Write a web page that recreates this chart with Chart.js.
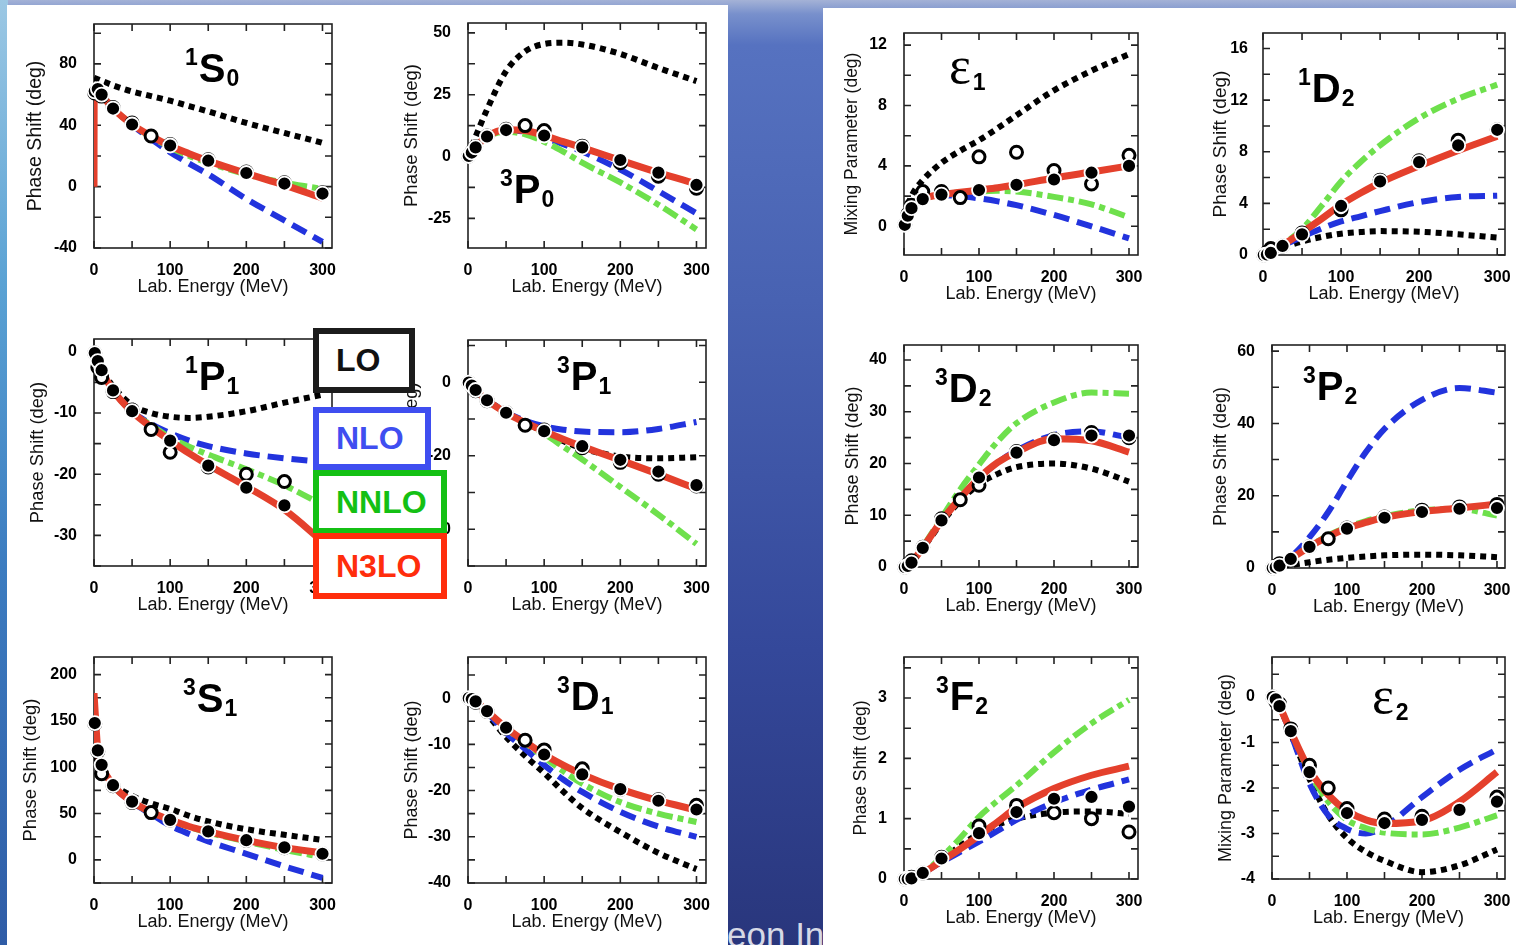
<!DOCTYPE html>
<html>
<head>
<meta charset="utf-8">
<title>NN phase shifts LO - N3LO</title>
<script src="https://cdn.jsdelivr.net/npm/chart.js@4.4.1/dist/chart.umd.min.js"></script>
<style>
  html, body { margin:0; padding:0; }
  body {
    width:1516px; height:945px; overflow:hidden; position:relative;
    background: linear-gradient(180deg, #a4b2d6 0px, #7890cc 14px, #5672c0 45px, #4862b2 300px, #34489a 650px, #29367c 945px);
    font-family: "Liberation Sans", Arial, sans-serif;
  }
  .strip { position:absolute; left:0; top:0; width:8px; height:945px;
    background: linear-gradient(180deg, #9cc8e4, #5aa2d4 30%, #3c7cc0 60%, #2f5ca6); }
  .caption { position:absolute; left:657px; top:917px; font-size:35px; line-height:35px; color:#d6d9e6; white-space:nowrap; }
  .page { position:absolute; background:#fff; }
  #pageL { left:7px; top:5px; width:721px; height:940px; }
  #pageR { left:823px; top:8px; width:693px; height:937px; }
  canvas { position:absolute; }
  .leg { position:absolute; box-sizing:border-box; background:#fff; border:6px solid;
    font-weight:bold; font-size:32px; padding-left:17px; display:flex; align-items:center; }
</style>
</head>
<body>
<div class="strip"></div>
<div class="caption">Nucleon Interactions</div>
<div class="page" id="pageL"></div>
<div class="page" id="pageR"></div>

<script>
// energies (MeV)
const E_GRID = [0, 5, 10, 25, 50, 75, 100, 125, 150, 200, 250, 300];
const E_PTS  = [1, 5, 10, 25, 50, 100, 150, 200, 250, 300];
const E_OPEN = [1, 5, 10, 25, 50, 75, 100, 150, 200, 250, 300];
const X_TICKS = [0, 100, 200, 300];

// ---- 1S0 ----
const S1S0_YT = [-40, 0, 40, 80];
const S1S0_LO = [71, 70, 69, 66, 62, 59, 56, 52.5, 49, 41.5, 35, 28.5];
const S1S0_NLO = [60, 61, 59, 51, 40, 31, 22.5, 15, 8, -8, -22, -36];
const S1S0_NNLO = [60, 62, 59.5, 51, 40.5, 32.5, 25.5, 20, 15.5, 8, 2.5, -1.5];
const S1S0_N3LO_E = [0, 0.2, 1, 5, 10, 25, 50, 75, 100, 125, 150, 200, 250, 300];
const S1S0_N3LO = [0, 57, 62, 63.5, 60, 51, 40.5, 33, 26.5, 21.5, 16.8, 8.6, 1, -7.5];
const S1S0_PWA = [62.1, 63.6, 60.0, 50.9, 40.5, 26.8, 16.9, 8.9, 2.0, -4.5];
const S1S0_VPI = [61, 62.5, 59, 51.5, 41.5, 33, 27.5, 17.5, 9.5, 2.5, -4];

// ---- 3P0 ----
const P3P0_YT = [-25, 0, 25, 50];
const P3P0_LO = [0, 4, 8, 19, 34.5, 42.5, 45.5, 46, 45.3, 41.5, 35.8, 30.5];
const P3P0_NLO = [0, 1.6, 3.6, 8, 10.5, 10, 7.5, 5, 2, -5.3, -14, -23];
const P3P0_NNLO = [0, 1.6, 3.6, 8, 10, 9, 6, 2, -2.5, -10.5, -19.5, -29.5];
const P3P0_N3LO = [0, 1.6, 3.7, 8.1, 10.8, 10.5, 8.5, 6, 3.6, -1.5, -6.5, -11];
const P3P0_PWA = [0.2, 1.6, 3.7, 8.1, 10.7, 8.5, 3.7, -1.4, -6.5, -11.5];
const P3P0_VPI = [0.2, 1.8, 4, 8.3, 11, 12.5, 10.5, 4.2, -2.5, -8, -12.8];

// ---- 1P1 ----
const P1P1_YT = [-30, -20, -10, 0];
const P1P1_LO = [0, -1.4, -2.8, -5.6, -8.7, -10, -10.6, -10.8, -10.6, -9.7, -8.3, -7];
const P1P1_NLO = [0, -1.5, -3, -6.3, -9.7, -11.8, -13.3, -14.5, -15.4, -16.6, -17.4, -18];
const P1P1_NNLO = [0, -1.5, -3, -6.3, -9.7, -12, -14, -15.5, -16.8, -19.2, -21.8, -25];
const P1P1_N3LO = [0, -1.5, -3, -6.3, -9.8, -12.3, -14.5, -16.6, -18.5, -22, -25.8, -31];
const P1P1_PWA = [-0.2, -1.5, -3.0, -6.3, -9.7, -14.5, -18.6, -22.2, -25.1, -27.6];
const P1P1_VPI = [-0.2, -2.5, -4.2, -6.5, -9.5, -12.7, -16.4, -18.8, -20, -21.2, -24];

// ---- 3P1 ----
const P3P1_YT = [-40, -20, 0];
const P3P1_LO = [0, -0.9, -2.1, -4.8, -8.1, -11, -13.5, -16, -18, -20.2, -20.7, -20.4];
const P3P1_NLO = [0, -0.9, -2.1, -4.8, -8.1, -10.5, -12, -12.9, -13.4, -13.6, -12.7, -10.8];
const P3P1_NNLO = [0, -0.9, -2.1, -4.9, -8.3, -11.2, -14, -17.5, -21, -28.5, -36, -44];
const P3P1_N3LO = [0, -0.9, -2.1, -4.9, -8.3, -11, -13.3, -15.5, -17.5, -21.2, -25, -29];
const P3P1_PWA = [-0.1, -0.9, -2.1, -4.9, -8.3, -13.3, -17.4, -21.1, -24.3, -28];
const P3P1_VPI = [-0.1, -1.0, -2.3, -5, -8.2, -11.7, -13, -17.8, -21.8, -25, -28.2];

// ---- 3S1 ----
const S3S1_YT = [0, 50, 100, 150, 200];
const S3S1_LO = [110, 105, 97, 82, 69, 61, 55, 47.5, 41.5, 33, 27, 21.5];
const S3S1_NLO = [150, 118, 102.5, 80.5, 62, 49.5, 37, 28, 20, 6.5, -7, -19.5];
const S3S1_NNLO = [150, 118, 102.5, 80.6, 62.8, 51, 43, 35.5, 29.5, 19.8, 10.8, 3];
const S3S1_N3LO = [180, 118.2, 102.6, 80.6, 62.8, 51.5, 43.2, 36, 30.5, 21, 13.2, 7.5];
const S3S1_PWA = [147.7, 118.2, 102.6, 80.6, 62.8, 43.2, 30.7, 21.2, 13.4, 6.6];
const S3S1_VPI = [147, 117, 93, 80, 62, 51, 43, 31, 21, 13, 6.5];

// ---- 3D1 ----
const D3D1_YT = [-40, -30, -20, -10, 0];
const D3D1_LO = [0, -0.2, -0.8, -3.5, -8.4, -12.5, -16.2, -20.2, -23.8, -29, -33.5, -37];
const D3D1_NLO = [0, -0.2, -0.8, -3.1, -7.5, -11, -14.5, -17.6, -20.3, -24.6, -27.8, -30];
const D3D1_NNLO = [0, -0.2, -0.7, -2.8, -6.5, -9.7, -12.8, -15.8, -18.5, -22.5, -25, -26.8];
const D3D1_N3LO = [0, -0.2, -0.7, -2.8, -6.4, -9.4, -12.2, -14.5, -16.5, -19.7, -22.2, -24.2];
const D3D1_PWA = [0, -0.2, -0.7, -2.8, -6.4, -12.2, -16.5, -19.7, -22.2, -24.1];
const D3D1_VPI = [0, -0.3, -0.9, -2.9, -6.5, -9.1, -11.2, -15.3, -19.7, -22, -23.2];

// ---- epsilon 1 ----
const EPS1_YT = [0, 4, 8, 12];
const EPS1_LO = [0, 1.3, 2.0, 3.05, 4.2, 5.0, 5.7, 6.5, 7.35, 9.0, 10.3, 11.4];
const EPS1_NLO = [0, 0.7, 1.2, 1.8, 2.05, 2.0, 1.85, 1.65, 1.4, 0.75, 0.0, -0.8];
const EPS1_NNLO = [0, 0.7, 1.2, 1.8, 2.1, 2.25, 2.3, 2.35, 2.3, 1.95, 1.45, 0.6];
const EPS1_N3LO = [0, 0.7, 1.2, 1.8, 2.1, 2.25, 2.4, 2.55, 2.75, 3.2, 3.6, 4.0];
const EPS1_PWA = [0.1, 0.7, 1.2, 1.8, 2.1, 2.4, 2.75, 3.1, 3.55, 4.0];
const EPS1_VPI = [0.1, 0.8, 1.4, 2.3, 2.3, 1.9, 4.6, 4.9, 3.7, 2.8, 4.7];

// ---- 1D2 ----
const D1D2_YT = [0, 4, 8, 12, 16];
const D1D2_LO = [0, 0.04, 0.15, 0.55, 1.05, 1.4, 1.65, 1.78, 1.85, 1.8, 1.6, 1.35];
const D1D2_NLO = [0, 0.04, 0.15, 0.7, 1.4, 2.05, 2.6, 3.0, 3.4, 4.1, 4.5, 4.6];
const D1D2_NNLO = [0, 0.04, 0.16, 0.8, 2.0, 3.8, 5.7, 7.2, 8.5, 10.6, 12.1, 13.2];
const D1D2_N3LO = [0, 0.04, 0.16, 0.75, 1.75, 2.8, 3.9, 4.8, 5.6, 6.9, 8.1, 9.2];
const D1D2_PWA = [0, 0.04, 0.16, 0.7, 1.6, 3.8, 5.7, 7.2, 8.5, 9.7];
const D1D2_VPI = [0, 0.2, 0.5, 0.7, 1.7, null, 3.5, 5.8, 7.3, 8.9, 9.7];

// ---- 3D2 ----
const D3D2_YT = [0, 10, 20, 30, 40];
const D3D2_LO = [0, 0.2, 0.8, 3.6, 8.5, 12.8, 16, 18, 19.3, 20, 19, 16.5];
const D3D2_NLO = [0, 0.2, 0.85, 3.7, 8.9, 13.3, 17.2, 20.2, 22.5, 25.5, 26.2, 25];
const D3D2_NNLO = [0, 0.2, 0.9, 3.9, 9.5, 15, 19.8, 24.3, 27.8, 31.8, 33.7, 33.5];
const D3D2_N3LO = [0, 0.2, 0.85, 3.7, 8.9, 13.3, 17.2, 20.2, 22.2, 24.8, 24.4, 22.2];
const D3D2_PWA = [0, 0.2, 0.85, 3.7, 9.0, 17.3, 22.1, 24.5, 25.4, 25.4];
const D3D2_VPI = [0, 0.5, 1.2, 3.8, 9.3, 13, 15.8, 22.3, 24.7, 26, 25];

// ---- 3P2 ----
const P3P2_YT = [0, 20, 40, 60];
const P3P2_LO = [0, 0.1, 0.25, 0.8, 1.6, 2.3, 2.8, 3.2, 3.5, 3.7, 3.5, 3.0];
const P3P2_NLO = [0, 0.2, 0.7, 3, 8.5, 15.5, 24, 32, 38.5, 46.5, 49.8, 48.5];
const P3P2_NNLO = [0, 0.2, 0.65, 2.6, 6, 9, 11.3, 13, 14.3, 16, 16.3, 14.5];
const P3P2_N3LO = [0, 0.2, 0.65, 2.5, 5.9, 8.7, 11, 12.6, 14, 15.6, 16.6, 17.7];
const P3P2_PWA = [0, 0.2, 0.65, 2.5, 5.85, 10.9, 13.9, 15.5, 16.4, 16.6];
const P3P2_VPI = [0, 0.5, 1.2, 2.2, 5.9, 8.1, 11.1, 14.1, 16, 16.9, 17.6];

// ---- 3F2 ----
const F3F2_YT = [0, 1, 2, 3];
const F3F2_LO = [0, 0, 0.01, 0.1, 0.32, 0.55, 0.75, 0.9, 1.0, 1.1, 1.12, 1.08];
const F3F2_NLO = [0, 0, 0.01, 0.1, 0.28, 0.45, 0.62, 0.8, 0.98, 1.27, 1.48, 1.65];
const F3F2_NNLO = [0, 0, 0.01, 0.1, 0.36, 0.68, 1.03, 1.3, 1.55, 2.1, 2.58, 2.97];
const F3F2_N3LO = [0, 0, 0.01, 0.1, 0.3, 0.5, 0.72, 0.95, 1.18, 1.5, 1.72, 1.87];
const F3F2_PWA = [0, 0, 0.01, 0.1, 0.34, 0.76, 1.11, 1.33, 1.36, 1.2];
const F3F2_VPI = [0, 0.01, 0.03, 0.1, 0.36, null, 0.88, 1.22, 1.1, 1.0, 0.78];

// ---- epsilon 2 ----
const EPS2_YT = [-4, -3, -2, -1, 0];
const EPS2_LO = [0, -0.05, -0.2, -0.8, -1.8, -2.6, -3.1, -3.4, -3.6, -3.85, -3.7, -3.35];
const EPS2_NLO = [0, -0.05, -0.2, -0.8, -1.9, -2.6, -2.9, -3.0, -2.85, -2.2, -1.6, -1.15];
const EPS2_NNLO = [0, -0.05, -0.2, -0.75, -1.65, -2.3, -2.7, -2.88, -2.98, -3.02, -2.87, -2.6];
const EPS2_N3LO = [0, -0.05, -0.2, -0.75, -1.6, -2.15, -2.5, -2.7, -2.78, -2.72, -2.3, -1.65];
const EPS2_PWA = [0, -0.05, -0.2, -0.75, -1.65, -2.55, -2.77, -2.7, -2.48, -2.3];
const EPS2_VPI = [0, -0.1, -0.15, -0.7, -1.5, -2.0, -2.45, -2.68, -2.62, null, -2.2];

const PS = 'Phase Shift (deg)', MP = 'Mixing Parameter (deg)';
const FONT = '"Liberation Sans", Arial, sans-serif';
const PT = 12, PR = 14, AXH = 50;

// layout of the 12 panels: plot box [left, top, width, height]
const panels = [
  { box:[94,24,238,224], xmax:312.5, ymin:-40, ymax:106, yt:S1S0_YT, yTitle:PS, ytOff:58, ytSize:19.5, tp:9,
    lab:{sup:'1', main:'S', sub:'0', dx:91, dy:58},
    lines:[[E_GRID,S1S0_LO],[E_GRID,S1S0_NLO],[E_GRID,S1S0_NNLO],[S1S0_N3LO_E,S1S0_N3LO]], pwa:S1S0_PWA, vpi:S1S0_VPI },
  { box:[468,23,238,225], xmax:312.5, ymin:-37, ymax:54, yt:P3P0_YT, yTitle:PS, ytOff:56, ytSize:18.5, tp:9,
    lab:{sup:'3', main:'P', sub:'0', dx:32, dy:180},
    lines:[[E_GRID,P3P0_LO],[E_GRID,P3P0_NLO],[E_GRID,P3P0_NNLO],[E_GRID,P3P0_N3LO]], pwa:P3P0_PWA, vpi:P3P0_VPI },
  { box:[94,339,238,227], xmax:312.5, ymin:-35, ymax:2.1, yt:P1P1_YT, yTitle:PS, ytOff:56.5, ytSize:18.3, tp:9,
    lab:{sup:'1', main:'P', sub:'1', dx:91, dy:51},
    lines:[[E_GRID,P1P1_LO],[E_GRID,P1P1_NLO],[E_GRID,P1P1_NNLO],[E_GRID,P1P1_N3LO]], pwa:P1P1_PWA, vpi:P1P1_VPI },
  { box:[468,340,238,226], xmax:312.5, ymin:-50, ymax:11.5, yt:P3P1_YT, yTitle:PS, ytOff:56, ytSize:18.3, tp:9,
    lab:{sup:'3', main:'P', sub:'1', dx:89, dy:50},
    lines:[[E_GRID,P3P1_LO],[E_GRID,P3P1_NLO],[E_GRID,P3P1_NNLO],[E_GRID,P3P1_N3LO]], pwa:P3P1_PWA, vpi:P3P1_VPI },
  { box:[94,657,238,226], xmax:312.5, ymin:-25, ymax:219, yt:S3S1_YT, yTitle:PS, ytOff:62.5, ytSize:18.5, tp:9,
    lab:{sup:'3', main:'S', sub:'1', dx:89, dy:55},
    lines:[[E_GRID,S3S1_LO],[E_GRID,S3S1_NLO],[E_GRID,S3S1_NNLO],[E_GRID,S3S1_N3LO]], pwa:S3S1_PWA, vpi:S3S1_VPI },
  { box:[468,657,238,226], xmax:312.5, ymin:-40, ymax:8.9, yt:D3D1_YT, yTitle:PS, ytOff:56, ytSize:18, tp:9,
    lab:{sup:'3', main:'D', sub:'1', dx:89, dy:53},
    lines:[[E_GRID,D3D1_LO],[E_GRID,D3D1_NLO],[E_GRID,D3D1_NNLO],[E_GRID,D3D1_N3LO]], pwa:D3D1_PWA, vpi:D3D1_VPI },
  { box:[904,33,234,222], xmax:312, ymin:-1.9, ymax:12.8, yt:EPS1_YT, yTitle:MP, ytOff:51, ytSize:17.5, tp:9,
    lab:{sup:'', main:'\u03b5', sub:'1', dx:45, dy:50, serif:true},
    lines:[[E_GRID,EPS1_LO],[E_GRID,EPS1_NLO],[E_GRID,EPS1_NNLO],[E_GRID,EPS1_N3LO]], pwa:EPS1_PWA, vpi:EPS1_VPI },
  { box:[1263,33,242,222], xmax:310, ymin:0, ymax:17.2, yt:D1D2_YT, yTitle:PS, ytOff:43, ytSize:19, tp:7,
    lab:{sup:'1', main:'D', sub:'2', dx:35, dy:69},
    lines:[[E_GRID,D1D2_LO],[E_GRID,D1D2_NLO],[E_GRID,D1D2_NNLO],[E_GRID,D1D2_N3LO]], pwa:D1D2_PWA, vpi:D1D2_VPI },
  { box:[904,345,234,222], xmax:312, ymin:0, ymax:42.9, yt:D3D2_YT, yTitle:PS, ytOff:51, ytSize:18, tp:9,
    lab:{sup:'3', main:'D', sub:'2', dx:31, dy:57},
    lines:[[E_GRID,D3D2_LO],[E_GRID,D3D2_NLO],[E_GRID,D3D2_NNLO],[E_GRID,D3D2_N3LO]], pwa:D3D2_PWA, vpi:D3D2_VPI },
  { box:[1272,345,233,223], xmax:310.7, ymin:0, ymax:61.7, yt:P3P2_YT, yTitle:PS, ytOff:51, ytSize:18, tp:9,
    lab:{sup:'3', main:'P', sub:'2', dx:31, dy:55},
    lines:[[E_GRID,P3P2_LO],[E_GRID,P3P2_NLO],[E_GRID,P3P2_NNLO],[E_GRID,P3P2_N3LO]], pwa:P3P2_PWA, vpi:P3P2_VPI },
  { box:[904,657,234,222], xmax:312, ymin:0, ymax:3.68, yt:F3F2_YT, yTitle:PS, ytOff:42, ytSize:17.5, tp:9,
    lab:{sup:'3', main:'F', sub:'2', dx:32, dy:53},
    lines:[[E_GRID,F3F2_LO],[E_GRID,F3F2_NLO],[E_GRID,F3F2_NNLO],[E_GRID,F3F2_N3LO]], pwa:F3F2_PWA, vpi:F3F2_VPI },
  { box:[1272,657,233,222], xmax:310.7, ymin:-4, ymax:0.88, yt:EPS2_YT, yTitle:MP, ytOff:46, ytSize:18, tp:9,
    lab:{sup:'', main:'\u03b5', sub:'2', dx:100, dy:56, serif:true},
    lines:[[E_GRID,EPS2_LO],[E_GRID,EPS2_NLO],[E_GRID,EPS2_NNLO],[E_GRID,EPS2_N3LO]], pwa:EPS2_PWA, vpi:EPS2_VPI }
];

// line styles: LO, NLO, NNLO, N3LO
const STYLES = [
  { color:'#000000', width:6, dash:[6,5] },
  { color:'#2233dd', width:6, dash:[16,8] },
  { color:'#6ee04c', width:6, dash:[16,5,6,5] },
  { color:'#e4402c', width:7, dash:[] }
];

function curve(xs, ys, st){
  return {
    data: xs.map((x,i)=>({x:x, y:ys[i]})),
    borderColor: st.color, borderWidth: st.width, borderDash: st.dash, borderCapStyle:'butt',
    pointRadius: 0, fill:false, cubicInterpolationMode:'monotone'
  };
}
function points(xs, ys, filled){
  const d = [];
  xs.forEach((x,i)=>{ if(ys[i] !== null && ys[i] !== undefined) d.push({x:x, y:ys[i]}); });
  return {
    data: d, showLine:false, clip:false,
    pointRadius: filled ? 7 : 6,
    pointBorderWidth: filled ? 1.8 : 3,
    pointBackgroundColor: filled ? '#000' : '#fff',
    pointBorderColor: filled ? '#fff' : '#000'
  };
}

// box, inward ticks on all 4 sides, channel label
function boxPlugin(p){
  return {
    id:'boxTicks',
    beforeDatasetsDraw(chart){
      const {ctx, chartArea:a, scales:{x, y}} = chart;
      ctx.save();
      ctx.strokeStyle = '#222'; ctx.lineWidth = 1.6;
      ctx.strokeRect(a.left, a.top, a.right - a.left, a.bottom - a.top);
      const L = 7;
      ctx.beginPath();
      for(let v = 0; v <= p.xmax; v += 50){
        const px = x.getPixelForValue(v);
        ctx.moveTo(px, a.bottom); ctx.lineTo(px, a.bottom - L);
        ctx.moveTo(px, a.top); ctx.lineTo(px, a.top + L);
      }
      const step = (p.yt[1] - p.yt[0]) / 2;
      let v0 = p.yt[0];
      while(v0 - step >= p.ymin - 1e-9) v0 -= step;
      for(let v = v0; v <= p.ymax + 1e-9; v += step){
        const py = y.getPixelForValue(v);
        ctx.moveTo(a.left, py); ctx.lineTo(a.left + L, py);
        ctx.moveTo(a.right, py); ctx.lineTo(a.right - L, py);
      }
      ctx.stroke();

      // channel name
      const lab = p.lab;
      let lx = a.left + lab.dx;
      const base = a.top + lab.dy;
      ctx.fillStyle = '#000'; ctx.textAlign = 'left'; ctx.textBaseline = 'alphabetic';
      if(lab.sup){
        ctx.font = 'bold 23px ' + FONT;
        ctx.fillText(lab.sup, lx, base - 17);
        lx += ctx.measureText(lab.sup).width + 1;
      }
      ctx.font = lab.serif ? '52px "Liberation Serif", serif' : 'bold 40px ' + FONT;
      ctx.fillText(lab.main, lx, base);
      lx += ctx.measureText(lab.main).width + (lab.serif ? 2 : 1);
      ctx.font = 'bold 23px ' + FONT;
      ctx.fillText(lab.sub, lx, base + (lab.serif ? 7 : 4));
      ctx.restore();
    }
  };
}

panels.forEach(p => {
  const [bx, by, bw, bh] = p.box;
  const AX = Math.round(p.ytOff + p.ytSize * 1.2 / 2);
  const W = AX + bw + PR, H = PT + bh + AXH;
  const cv = document.createElement('canvas');
  cv.width = W; cv.height = H;
  cv.style.left = (bx - AX) + 'px'; cv.style.top = (by - PT) + 'px';
  cv.style.width = W + 'px'; cv.style.height = H + 'px';
  document.body.appendChild(cv);

  const datasets = [points(E_PTS, p.pwa, true), points(E_OPEN, p.vpi, false)];
  for(let i = 3; i >= 0; i--) datasets.push(curve(p.lines[i][0], p.lines[i][1], STYLES[i]));

  new Chart(cv, {
    type:'line',
    data:{ datasets: datasets },
    options:{
      responsive:false, animation:false, devicePixelRatio:1, events:[],
      layout:{ padding:{ left:0, top:PT, right:PR, bottom:0 } },
      plugins:{ legend:{display:false}, tooltip:{enabled:false} },
      scales:{
        x:{
          type:'linear', min:0, max:p.xmax,
          grid:{display:false}, border:{display:false},
          afterBuildTicks: s => { s.ticks = X_TICKS.map(v => ({value:v})); },
          afterFit: s => { s.height = AXH; s.paddingLeft = 0; s.paddingRight = 0; },
          ticks:{ color:'#000', padding:5, maxRotation:0, autoSkip:false,
            font:{family:FONT, size:16, weight:'bold'}, callback: v => String(v) },
          title:{ display:true, text:'Lab. Energy (MeV)', color:'#111', padding:0,
            font:{family:FONT, size:18} }
        },
        y:{
          type:'linear', min:p.ymin, max:p.ymax,
          grid:{display:false}, border:{display:false},
          afterBuildTicks: s => { s.ticks = p.yt.map(v => ({value:v})); },
          afterFit: s => { s.width = AX; s.paddingTop = 0; s.paddingBottom = 0; },
          ticks:{ color:'#000', padding:p.tp, autoSkip:false,
            font:{family:FONT, size:16, weight:'bold'}, callback: v => String(v) },
          title:{ display:true, text:p.yTitle, color:'#111', padding:0,
            font:{family:FONT, size:p.ytSize} }
        }
      }
    },
    plugins:[boxPlugin(p)]
  });
});

// legend boxes
const LEG_LABELS = ['LO', 'NLO', 'NNLO', 'N3LO'];
const LEG_COLORS = ['#1c1c1c', '#3f4ef0', '#14c014', '#ff2d0c'];
const LEG_BOXES = [[313,328,102,65], [313,407,118,63], [313,470,134,64], [313,533,134,66]];
LEG_LABELS.forEach((t, i) => {
  const d = document.createElement('div');
  d.className = 'leg';
  const b = LEG_BOXES[i];
  d.style.left = b[0] + 'px'; d.style.top = b[1] + 'px';
  d.style.width = b[2] + 'px'; d.style.height = b[3] + 'px';
  d.style.borderColor = LEG_COLORS[i];
  d.style.color = i === 0 ? '#111' : LEG_COLORS[i];
  d.textContent = t;
  document.body.appendChild(d);
});
</script>
</body>
</html>
